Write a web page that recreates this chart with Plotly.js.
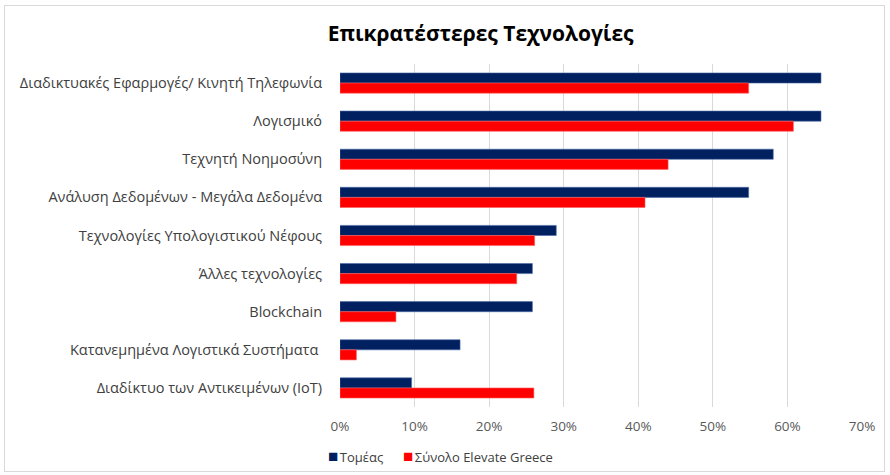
<!DOCTYPE html>
<html>
<head>
<meta charset="utf-8">
<script src="https://cdn.plot.ly/plotly-3.0.1.min.js"></script>
<style>
html,body{margin:0;padding:0;background:#fff;}
#wrap{position:relative;width:890px;height:475px;}
#chart{position:absolute;left:0;top:0;width:890px;height:475px;}
#frame{position:absolute;left:4px;top:5px;width:879px;height:465px;border:1px solid #d9d9d9;pointer-events:none;}
</style>
</head>
<body>
<div id="wrap"><div id="chart"></div><div id="frame"></div></div>
<script>
const categories = [
  "Διαδικτυακές Εφαρμογές/ Κινητή Τηλεφωνία",
  "Λογισμικό",
  "Τεχνητή Νοημοσύνη",
  "Ανάλυση Δεδομένων - Μεγάλα Δεδομένα",
  "Τεχνολογίες Υπολογιστικού Νέφους",
  "Άλλες τεχνολογίες",
  "Blockchain",
  "Κατανεμημένα Λογιστικά Συστήματα ",
  "Διαδίκτυο των Αντικειμένων (IoT)"
];
const sectorValues = [0.645, 0.645, 0.581, 0.548, 0.290, 0.258, 0.258, 0.161, 0.096];
const totalValues  = [0.548, 0.608, 0.440, 0.409, 0.261, 0.237, 0.075, 0.022, 0.260];
const xTickVals = [0, 0.1, 0.2, 0.3, 0.4, 0.5, 0.6, 0.7];
const xTickText = ["0%", "10%", "20%", "30%", "40%", "50%", "60%", "70%"];
const seriesNames = ["Τομέας", "Σύνολο Elevate Greece"];
const seriesColors = ["#002060", "#ff0000"];

const traces = [
  {type:'bar', orientation:'h', name:seriesNames[0], y:categories, x:sectorValues,
   marker:{color:seriesColors[0], line:{color:'#4a6aa8', width:0.6}}},
  {type:'bar', orientation:'h', name:seriesNames[1], y:categories, x:totalValues,
   marker:{color:seriesColors[1], line:{color:'#ff6060', width:0.6}}}
];

function legendText(i){
  return '<span style="color:'+seriesColors[i]+';font-size:17px">■</span><span style="font-size:6px"> </span>'+seriesNames[i];
}
const legendAnn = [
  {xref:'paper', yref:'paper', x:-0.026, y:-0.14, xanchor:'left', yanchor:'middle', showarrow:false,
   text:legendText(0), font:{size:13, color:'#404040'}},
  {xref:'paper', yref:'paper', x:0.116, y:-0.14, xanchor:'left', yanchor:'middle', showarrow:false,
   text:legendText(1), font:{size:13, color:'#404040'}}
];

const layout = {
  width:890, height:475,
  margin:{l:340, r:28, t:64, b:68},
  paper_bgcolor:'rgba(0,0,0,0)', plot_bgcolor:'#fff',
  font:{family:'"Open Sans", "Noto Sans", sans-serif', size:13, color:'#404040'},
  title:{text:'Επικρατέστερες Τεχνολογίες', x:0.54, xanchor:'center', y:0.93, yanchor:'middle',
         font:{family:'"Open Sans", "Noto Sans", sans-serif', size:21, color:'#000', weight:'bold'}},
  barmode:'group', bargap:0.47, bargroupgap:0,
  xaxis:{range:[0,0.7], tickvals:xTickVals, ticktext:xTickText, showgrid:true, gridcolor:'#d9d9d9', gridwidth:1,
         zeroline:false, showline:false, ticks:'outside', ticklen:7, tickcolor:'rgba(0,0,0,0)',
         tickfont:{size:13.5, color:'#595959'}, fixedrange:true},
  yaxis:{type:'category', autorange:'reversed', showgrid:false, zeroline:false, showline:false,
         ticks:'outside', ticklen:14, tickcolor:'rgba(0,0,0,0)', tickfont:{size:14.5, color:'#404040'}, fixedrange:true},
  annotations:legendAnn,
  showlegend:false
};

Plotly.newPlot('chart', traces, layout, {displayModeBar:false, staticPlot:true});
</script>
</body>
</html>
